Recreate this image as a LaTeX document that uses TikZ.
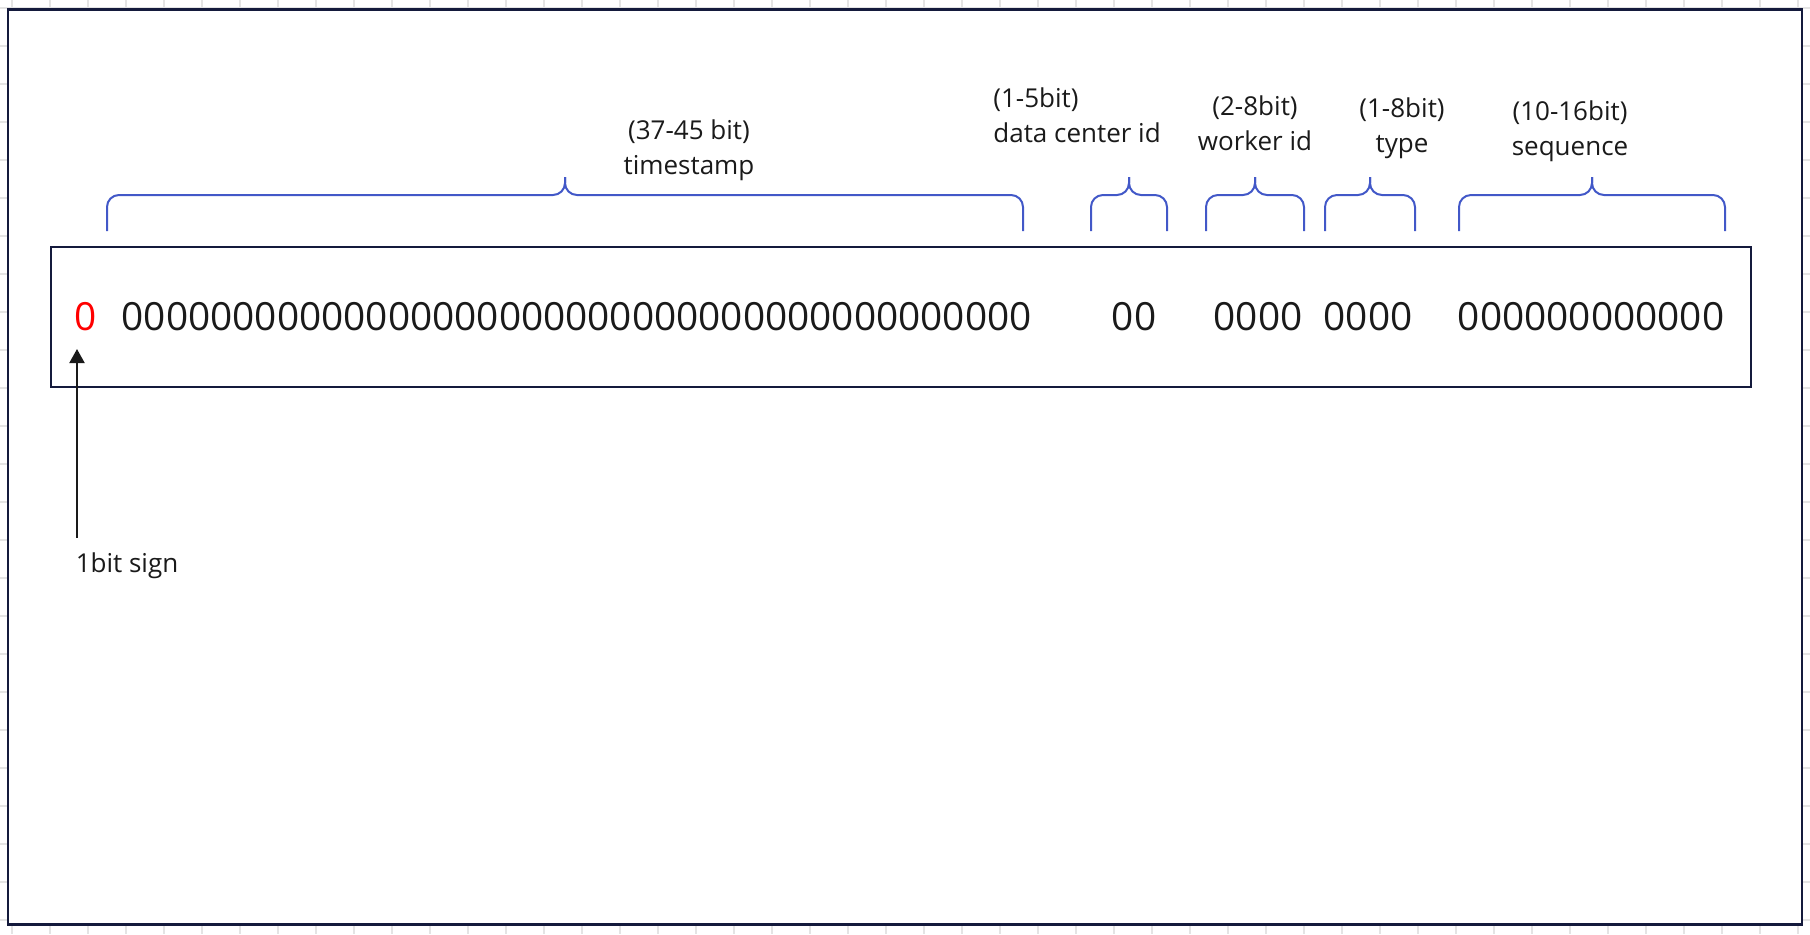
\documentclass[tikz,border=0pt]{standalone}
\usepackage{fontspec}
\setmainfont{Open Sans}
\usetikzlibrary{arrows.meta}
\definecolor{framenavy}{RGB}{20,26,60}
\definecolor{braceblue}{RGB}{66,88,200}
\definecolor{bitred}{RGB}{255,0,0}
\definecolor{gridgray}{RGB}{228,228,228}
\definecolor{inkblack}{RGB}{26,26,26}

\begin{document}
\begin{tikzpicture}[x=0.5pt,y=-0.5pt]
        \tikzset{gridline/.style={draw=gridgray, line width=0.7pt},
        frame/.style={draw=framenavy, line width=1.2pt},
        bits/.style={font=\fontsize{19.4}{23}\selectfont, text=inkblack, inner sep=0pt, anchor=base},
        fieldlbl/.style={font=\fontsize{13}{17.5}\selectfont, text=inkblack, align=center, inner sep=0pt, anchor=base},
        bitbrace/.style={draw=braceblue, line width=1pt, rounded corners=6pt},
        signarrow/.style={draw=inkblack, line width=1pt, -{Triangle[width=7.5pt,length=7pt]}}}
        \useasboundingbox (0,0) rectangle (1810,934);
        \foreach \gx in {12,50,...,1810} \draw[gridline] (\gx,0) -- (\gx,934);
        \foreach \gy in {8,46,...,934} \draw[gridline] (0,\gy) -- (1810,\gy);
        \draw[frame, fill=white] (8,9.5) rectangle (1802,924.5);
        \draw[frame] (51,247) rectangle (1751,387);
        \node[bits, text=bitred] (sign) at (85.5,330) {0};
        \node[bits] (ts) at (576.5,330) {00000000000000000000000000000000000000000};
        \node[bits] (dc) at (1134,330) {00};
        \node[bits] (wk) at (1258,330) {0000};
        \node[bits] (tp) at (1368,330) {0000};
        \node[bits] (sq) at (1591,330) {000000000000};
        \foreach \a/\b in {107/1023, 1091/1167, 1206/1304, 1325/1415, 1459/1725}
        {
        \draw[bitbrace] (\a,231) -- (\a,195) -- ({(\a+\b)/2},195) -- ({(\a+\b)/2},177);
        \draw[bitbrace] (\b,231) -- (\b,195) -- ({(\a+\b)/2},195) -- ({(\a+\b)/2},177);
        }
        \node[fieldlbl] (tslbl) at (689,174) {(37-45 bit)\\timestamp};
        \node[fieldlbl, align=left, anchor=base west] (dclbl) at (993,142) {(1-5bit)\\data center id};
        \node[fieldlbl] (wklbl) at (1255,150) {(2-8bit)\\worker id};
        \node[fieldlbl] (tplbl) at (1402,152) {(1-8bit)\\type};
        \node[fieldlbl] (sqlbl) at (1570,155) {(10-16bit)\\sequence};
        \node[fieldlbl] (signlbl) at (127,572) {1bit sign};
        \coordinate (signtip) at (77,349);
        \draw[signarrow, shorten <=7pt] (signlbl.north -| signtip) -- (signtip);
    \end{tikzpicture}
\end{document}
